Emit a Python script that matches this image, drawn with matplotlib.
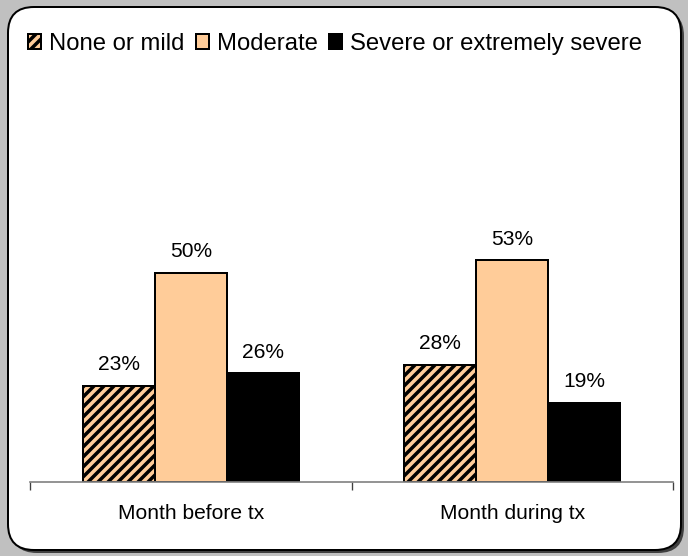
import matplotlib
matplotlib.use("Agg")
import matplotlib.pyplot as plt
from matplotlib.patches import FancyBboxPatch
import numpy as np

# data
categories = ["Month before tx", "Month during tx"]
series = ["None or mild", "Moderate", "Severe or extremely severe"]
none_mild = [23, 28]
moderate = [50, 53]
severe = [26, 19]

plt.rcParams["font.family"] = ["Liberation Sans", "DejaVu Sans"]
plt.rcParams["hatch.linewidth"] = 2.1

DPI = 120
W, H = 688, 556
fig = plt.figure(figsize=(W / DPI, H / DPI), dpi=DPI, facecolor="#c0c0c0")

# rounded white panel with a small shadow
px = fig.dpi_scale_trans
shadow = FancyBboxPatch((11 / DPI, 3 / DPI), 673 / DPI, 543 / DPI,
                        boxstyle=f"round,pad=0,rounding_size={26 / DPI}",
                        transform=px, facecolor="#404040", edgecolor="none",
                        zorder=-3)
panel = FancyBboxPatch((8 / DPI, 6 / DPI), 673 / DPI, 543 / DPI,
                       boxstyle=f"round,pad=0,rounding_size={26 / DPI}",
                       transform=px, facecolor="white", edgecolor="black",
                       linewidth=1.2, zorder=-2)
fig.patches.extend([shadow, panel])

ax = fig.add_axes([30 / W, 1 - 482 / H, 643 / W, 418 / H])
ax.set_facecolor("none")
ax.set_zorder(1)

x = np.arange(len(categories))
bw = 0.224
b1 = ax.bar(x - bw, none_mild, bw, color="#ffcc99", edgecolor="black",
            linewidth=1.2, hatch="////", label=series[0])
b2 = ax.bar(x, moderate, bw, color="#ffcc99", edgecolor="black",
            linewidth=1.2, label=series[1])
b3 = ax.bar(x + bw, severe, bw, color="black", edgecolor="black",
            linewidth=1.2, label=series[2])

for bars in (b1, b2, b3):
    for rect in bars:
        h = rect.get_height()
        ax.annotate(f"{h:.0f}%", (rect.get_x() + rect.get_width() / 2, h),
                    xytext=(0, 7), textcoords="offset points",
                    ha="center", va="bottom", fontsize=12.6)

ax.set_xlim(-0.5, len(categories) - 0.5)
ax.set_ylim(0, 100)
for s in ("top", "right", "left"):
    ax.spines[s].set_visible(False)
ax.spines["bottom"].set_color("#808080")
ax.spines["bottom"].set_linewidth(1.0)
ax.set_yticks([])
ax.set_xticks(np.arange(len(categories) + 1) - 0.5)
ax.set_xticklabels([])
ax.tick_params(axis="x", which="major", length=4.5, color="#404040", width=0.8)
ax.set_xticks(x, minor=True)
ax.set_xticklabels(categories, minor=True, fontsize=12.6)
ax.tick_params(axis="x", which="minor", length=0, pad=13)

leg = fig.legend(handles=[b1, b2, b3], labels=series, loc="upper left",
                 bbox_to_anchor=(28 / W, 1 - 33 / H), ncol=3, frameon=False,
                 fontsize=14.3, handlelength=0.55, handleheight=0.55,
                 handletextpad=0.35, columnspacing=0.45, borderaxespad=0,
                 borderpad=0)
leg.set_zorder(2)

fig.savefig("out.png", dpi=DPI, facecolor=fig.get_facecolor())
